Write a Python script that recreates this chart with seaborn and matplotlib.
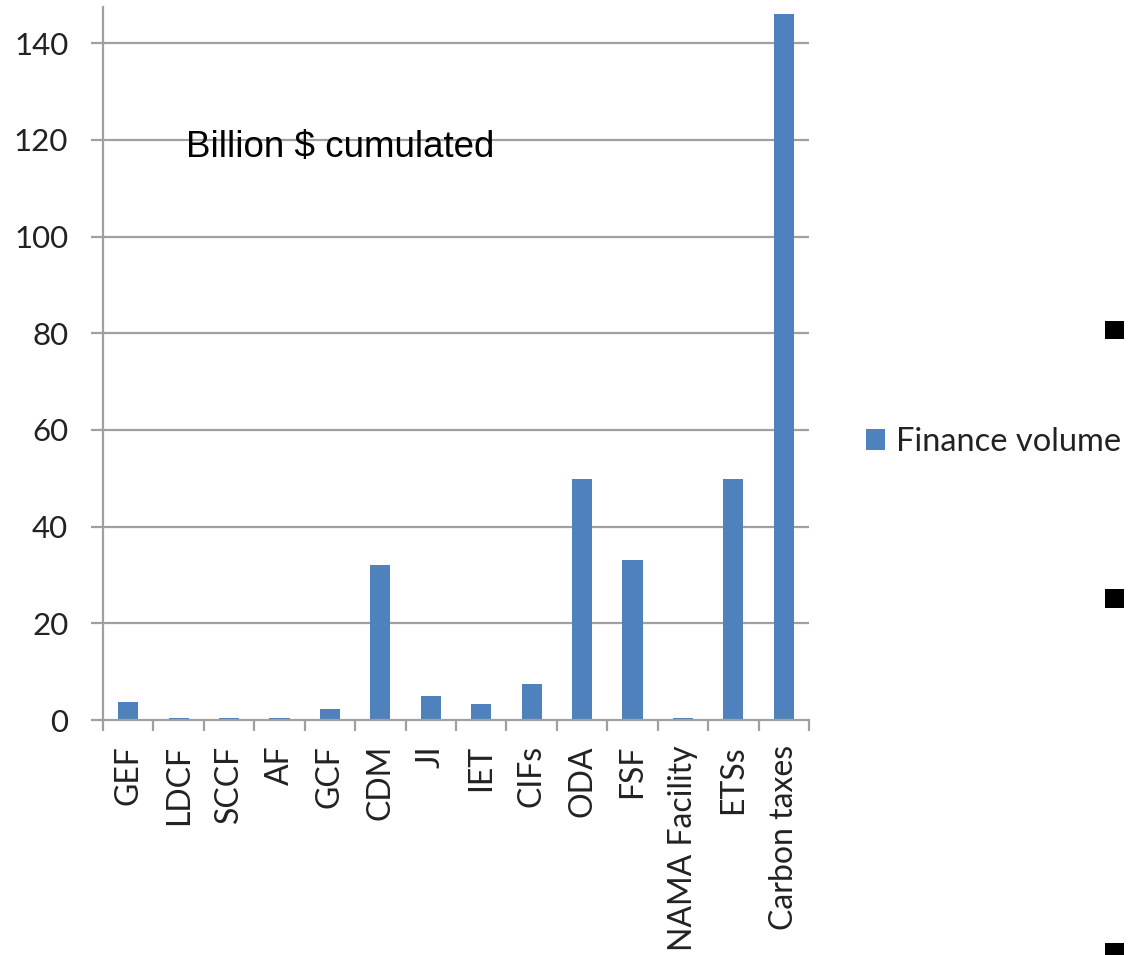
import matplotlib
matplotlib.use("Agg")
import matplotlib.pyplot as plt
import seaborn as sns
import pandas as pd
from matplotlib.patches import Rectangle
from matplotlib.ticker import FixedLocator

categories = ["GEF", "LDCF", "SCCF", "AF", "GCF", "CDM", "JI", "IET", "CIFs",
              "ODA", "FSF", "NAMA Facility", "ETSs", "Carbon taxes"]
values = [3.8, 0.5, 0.5, 0.5, 2.3, 32.0, 4.9, 3.4, 7.4, 49.8, 33.0, 0.5, 49.8, 146.0]
y_ticks = [0, 20, 40, 60, 80, 100, 120, 140]
series_name = "Finance volume"
annotation = "Billion $ cumulated"

sns.set_theme(style="white")
plt.rcParams['font.family'] = ['Lato', 'DejaVu Sans']

W, H = 1131, 955
fig = plt.figure(figsize=(W / 100, H / 100), dpi=100)
left, right, bottom_px, top_px = 103, 809, 720, 7
ax = fig.add_axes([left / W, 1 - bottom_px / H, (right - left) / W, (bottom_px - top_px) / H])

df = pd.DataFrame({"cat": categories, "val": values})
bar_color = "#4F81BD"
grid_color = "#A0A0A0"
text_color = "#222222"

sns.barplot(data=df, x="cat", y="val", color=bar_color, width=0.4,
            saturation=1, ax=ax, label=series_name, edgecolor="none")

ax.set_xlim(-0.5, len(categories) - 0.5)
ax.set_ylim(0, 147.5)
ax.set_yticks(y_ticks)
ax.set_yticklabels([str(v) for v in y_ticks])
ax.set_xlabel("")
ax.set_ylabel("")

for v in y_ticks[1:]:
    ax.axhline(v, color=grid_color, lw=1.6, zorder=0)

for s in ["top", "right"]:
    ax.spines[s].set_visible(False)
for s in ["left", "bottom"]:
    ax.spines[s].set_color(grid_color)
    ax.spines[s].set_linewidth(1.6)

ax.tick_params(axis="y", which="major", direction="out", length=9, width=1.6,
               color=grid_color, labelsize=22.5, labelcolor=text_color, pad=16, left=True)
ax.set_xticks(range(len(categories)))
ax.set_xticklabels(categories, rotation=90, fontsize=23, color=text_color)
ax.xaxis.set_minor_locator(FixedLocator([i - 0.5 for i in range(len(categories) + 1)]))
ax.tick_params(axis="x", which="major", length=0, pad=18)
ax.tick_params(axis="x", which="minor", direction="out", length=8, width=1.6,
               color=grid_color, bottom=True)

ax.text(1.15, 116.4, annotation, fontsize=26.5, family="Liberation Sans",
        color="black", va="baseline", ha="left")

leg = ax.legend(loc="center left", bbox_to_anchor=(866 / W, 1 - 442 / H),
                bbox_transform=fig.transFigure, frameon=False, fontsize=23.5,
                handlelength=0.58, handleheight=0.58, handletextpad=0.34,
                borderaxespad=0, borderpad=0)
for t in leg.get_texts():
    t.set_color(text_color)

for (y0, y1) in [(321, 339), (589, 608), (943, 956)]:
    fig.add_artist(Rectangle((1105 / W, 1 - y1 / H), 19 / W, (y1 - y0) / H,
                             transform=fig.transFigure, color="black", lw=0))

fig.savefig("out.png", dpi=100, facecolor="white")
